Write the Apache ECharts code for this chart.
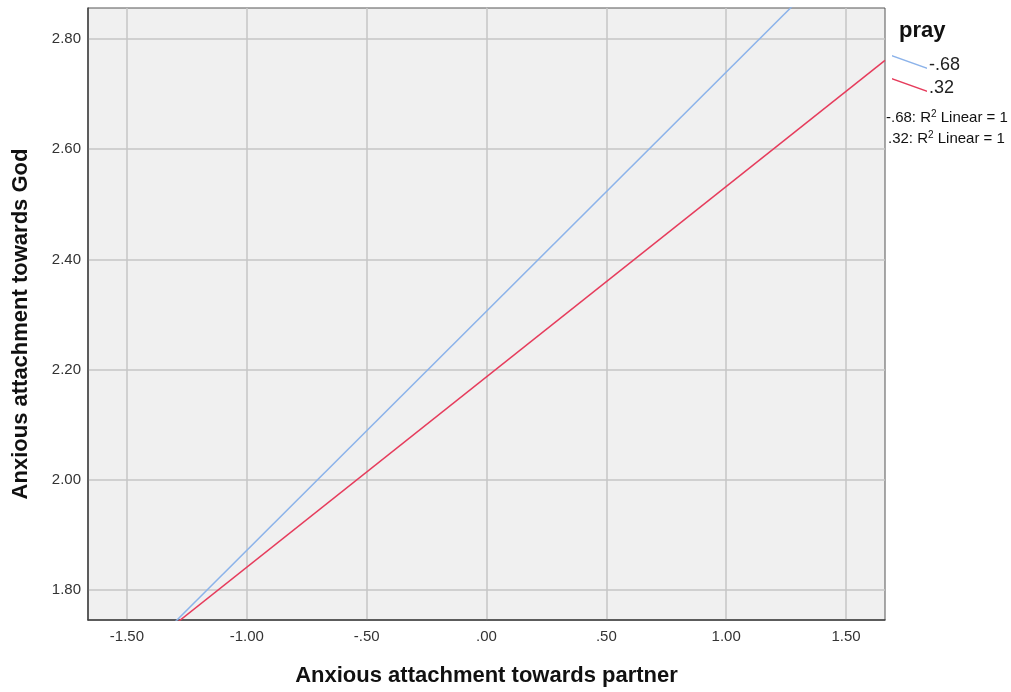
<!DOCTYPE html>
<html>
<head>
<meta charset="utf-8">
<script src="https://cdn.jsdelivr.net/npm/echarts@6/dist/echarts.min.js"></script>
<style>html,body{margin:0;padding:0;background:#fff}#c{width:1011px;height:692px}</style>
</head>
<body>
<div id="c"></div>
<script>
// Data (fit-line endpoints across the x range)
const legendTitle = 'pray';
const groupNames = ['-.68', '.32'];
const lineX = [-1.6625, 1.6625];
const lineY_neg68 = [1.585, 3.027];
const lineY_pos32 = [1.613, 2.761];
const r2Labels = ['-.68: R', '.32: R'];
const xTitle = 'Anxious attachment towards partner';
const yTitle = 'Anxious attachment towards God';
const xRange = [-1.6625, 1.6625];
const yRange = [1.746, 2.856];
const xTicks = [-1.5, -1.0, -0.5, 0, 0.5, 1.0, 1.5];
const yTicks = [1.8, 2.0, 2.2, 2.4, 2.6, 2.8];

const colors = ['#8cb3ea', '#e63c5c'];
const font = 'Liberation Sans, Arial, sans-serif';

function fmt(v) {
  let s = Number(v).toFixed(2);
  s = s.replace(/^0\./, '.').replace(/^-0\./, '-.');
  return s;
}

const chart = echarts.init(document.getElementById('c'));
const ys = [lineY_neg68, lineY_pos32];
chart.setOption({
  animation: false,
  textStyle: { fontFamily: font },
  grid: {
    left: 88, right: 126, top: 8, bottom: 71,
    show: true, backgroundColor: '#f0f0f0', borderColor: '#555', borderWidth: 1
  },
  xAxis: {
    type: 'value', min: xRange[0], max: xRange[1],
    name: xTitle, nameLocation: 'middle', nameGap: 45,
    nameTextStyle: { fontSize: 22, fontWeight: 'bold', color: '#111', fontFamily: font },
    axisLine: { show: true, onZero: false, lineStyle: { color: '#444', width: 1.5 } },
    axisTick: { show: false, customValues: xTicks },
    axisLabel: { color: '#333', fontSize: 15, margin: 9, customValues: xTicks,
      formatter: v => fmt(v) },
    splitLine: { show: true, lineStyle: { color: '#c6c6c6', width: 1.5 } }
  },
  yAxis: {
    type: 'value', min: yRange[0], max: yRange[1],
    name: yTitle, nameLocation: 'middle', nameGap: 56, nameRotate: 90,
    nameTextStyle: { fontSize: 22, fontWeight: 'bold', color: '#111', fontFamily: font,
      padding: [0, 20, 0, 0] },
    axisLine: { show: true, onZero: false, lineStyle: { color: '#444', width: 1.5 } },
    axisTick: { show: false, customValues: yTicks },
    axisLabel: { color: '#333', fontSize: 15, margin: 7, customValues: yTicks,
      formatter: v => fmt(v) },
    splitLine: { show: true, lineStyle: { color: '#c6c6c6', width: 1.5 } }
  },
  legend: {
    orient: 'vertical', left: 887, top: 50, itemGap: 3,
    itemWidth: 35, itemHeight: 20,
    icon: 'path://M0,0 L35,12.5 L35,14 L0,1.5 Z M0,19.99 L0.01,20 L0,20 Z',
    textStyle: { fontSize: 18, color: '#222', padding: [0, 0, 0, -3] },
    data: groupNames
  },
  graphic: [
    { type: 'text', left: 899, top: 20,
      style: { text: legendTitle, font: 'bold 22px ' + font, fill: '#111' } },
    { type: 'text', left: 886, top: 109,
      style: { text: r2Labels[0] + '{s|2} Linear = 1', font: '15px ' + font, fill: '#111',
        rich: { s: { fontSize: 10, verticalAlign: 'top', padding: [0, 0, 7, 0] } } } },
    { type: 'text', left: 888, top: 130,
      style: { text: r2Labels[1] + '{s|2} Linear = 1', font: '15px ' + font, fill: '#111',
        rich: { s: { fontSize: 10, verticalAlign: 'top', padding: [0, 0, 7, 0] } } } }
  ],
  series: groupNames.map((n, i) => ({
    name: n, type: 'line', clip: true, showSymbol: false, silent: true,
    lineStyle: { color: colors[i], width: 1.5 }, itemStyle: { color: colors[i] },
    data: lineX.map((x, j) => [x, ys[i][j]])
  }))
});
</script>
</body>
</html>
